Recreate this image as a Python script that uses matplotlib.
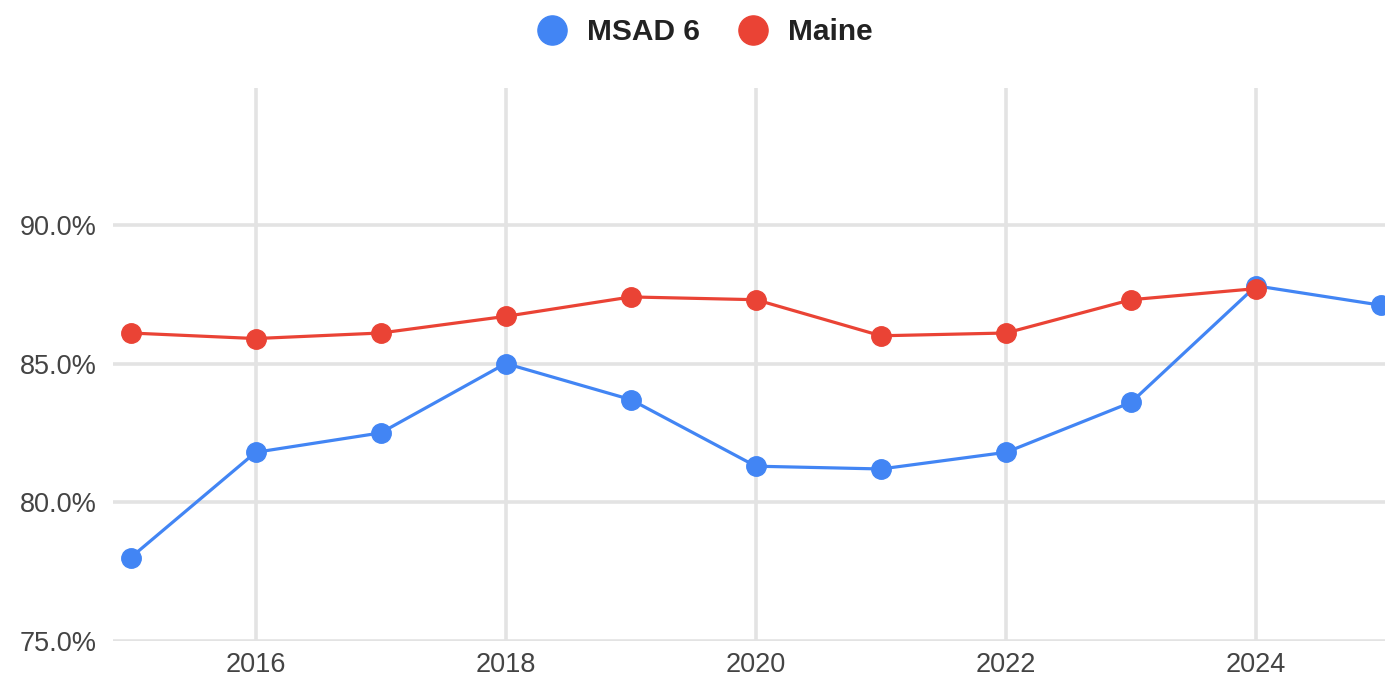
import matplotlib.pyplot as plt
from matplotlib.lines import Line2D

# Data
years = [2015, 2016, 2017, 2018, 2019, 2020, 2021, 2022, 2023, 2024, 2025]
msad6 = [78.0, 81.8, 82.5, 85.0, 83.7, 81.3, 81.2, 81.8, 83.6, 87.8, 87.1]
maine_years = [2015, 2016, 2017, 2018, 2019, 2020, 2021, 2022, 2023, 2024]
maine = [86.1, 85.9, 86.1, 86.7, 87.4, 87.3, 86.0, 86.1, 87.3, 87.7]
x_ticks = [2016, 2018, 2020, 2022, 2024]
y_ticks = [75, 80, 85, 90]

BLUE = '#4285F4'
RED = '#EA4335'

plt.rcParams['font.family'] = ['Liberation Sans', 'DejaVu Sans']

fig = plt.figure(figsize=(13.85, 6.77), dpi=100)
ax = fig.add_axes([113 / 1385, 36 / 677, 1 - 113 / 1385, 553 / 677])

ax.plot(years, msad6, color=BLUE, lw=2.3, marker='o', ms=14, clip_on=False, zorder=3)
ax.plot(maine_years, maine, color=RED, lw=2.3, marker='o', ms=14, clip_on=False, zorder=4)

ax.set_xlim(2014.86, 2025.03)
ax.set_ylim(75, 94.93)
ax.set_xticks(x_ticks)
ax.set_yticks(y_ticks)
ax.set_yticklabels([f'{v:.1f}%' for v in y_ticks])
ax.grid(True, color='#e3e3e3', lw=2.6)
ax.set_axisbelow(True)
for s in ax.spines.values():
    s.set_visible(False)
ax.tick_params(length=0, labelsize=19.5, labelcolor='#444444')
ax.tick_params(axis='y', pad=12)
ax.tick_params(axis='x', pad=8)

handles = [Line2D([], [], ls='', marker='o', ms=21, color=BLUE),
           Line2D([], [], ls='', marker='o', ms=21, color=RED)]
leg = fig.legend(handles, ['MSAD 6', 'Maine'], loc='center', bbox_to_anchor=(705 / 1385, 1 - 32 / 677),
                 ncol=2, frameon=False, handlelength=1.0, handletextpad=0.67, columnspacing=1.27,
                 prop={'size': 21.5, 'weight': 'bold'})
for t in leg.get_texts():
    t.set_color('#222222')

fig.savefig('out.png', dpi=100)
